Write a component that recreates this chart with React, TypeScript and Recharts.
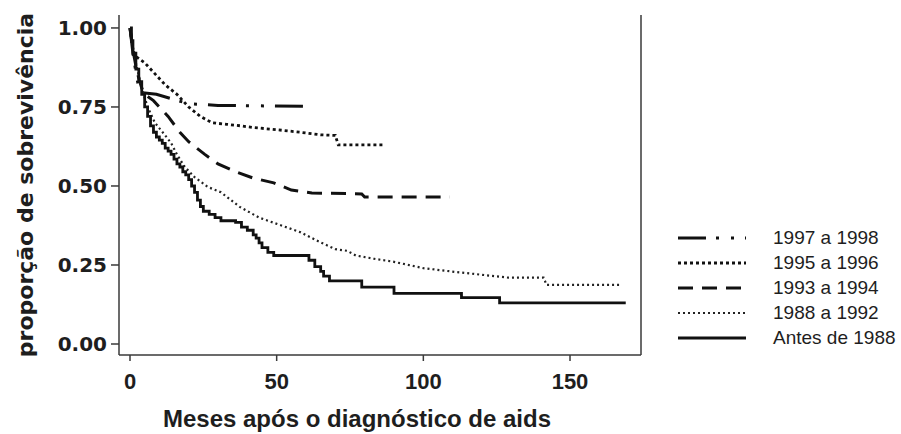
import React from 'react';
import { LineChart, Line, XAxis, YAxis, Legend } from 'recharts';

// ---- data ----
const xTicks = [0, 50, 100, 150];
const yTicks = [0, 0.25, 0.5, 0.75, 1.0];

const seriesNames = ['1997 a 1998', '1995 a 1996', '1993 a 1994', '1988 a 1992', 'Antes de 1988'];

const months9798 = [0, 1, 2, 3, 4, 9, 20, 30, 59];
const surv9798 = [1.0, 0.92, 0.86, 0.81, 0.795, 0.79, 0.76, 0.755, 0.752];

const months9596 = [0, 1, 2, 5, 8, 12, 16, 20, 24, 28, 33, 38, 42, 50, 58, 65, 70, 71, 87];
const surv9596 = [1.0, 0.93, 0.91, 0.89, 0.86, 0.82, 0.79, 0.75, 0.72, 0.7, 0.695, 0.69, 0.685, 0.678, 0.67, 0.662, 0.66, 0.63, 0.63];

const months9394 = [0, 1, 2, 3, 4, 5, 8, 13, 17, 20, 25.5, 30, 36, 42, 49, 55, 62, 79, 80, 109];
const surv9394 = [1.0, 0.93, 0.88, 0.84, 0.81, 0.79, 0.77, 0.72, 0.67, 0.64, 0.6, 0.57, 0.545, 0.525, 0.51, 0.487, 0.478, 0.475, 0.465, 0.465];

const months8892 = [0, 1, 2, 3, 4, 6, 8.5, 12, 14, 16, 18.7, 22, 26.5, 31, 37.4, 44, 51, 58, 64.6, 70, 74, 77, 83, 90, 100, 111, 129, 141, 142, 167];
const surv8892 = [1.0, 0.94, 0.89, 0.85, 0.81, 0.75, 0.7, 0.66, 0.636, 0.6, 0.56, 0.528, 0.497, 0.48, 0.434, 0.4, 0.377, 0.354, 0.323, 0.3, 0.295, 0.28, 0.27, 0.26, 0.24, 0.228, 0.21, 0.21, 0.187, 0.187];

const monthsAntes = [0, 0.5, 1, 2, 3, 4, 5, 6, 7, 8, 9, 10, 11, 12, 13, 14, 15, 16, 17, 18, 19, 20, 21, 22, 23, 24, 25, 27, 29, 31, 36, 38, 40, 42, 43, 44, 45, 47, 49, 61, 63, 65, 66, 68, 79, 90, 113, 126, 169];
const survAntes = [1.0, 0.96, 0.92, 0.87, 0.83, 0.79, 0.75, 0.72, 0.69, 0.67, 0.655, 0.645, 0.635, 0.62, 0.61, 0.6, 0.585, 0.57, 0.56, 0.545, 0.535, 0.52, 0.5, 0.48, 0.455, 0.435, 0.42, 0.41, 0.4, 0.39, 0.385, 0.37, 0.36, 0.345, 0.335, 0.32, 0.305, 0.29, 0.28, 0.265, 0.245, 0.23, 0.215, 0.2, 0.18, 0.16, 0.147, 0.13, 0.13];

const toPoints = (xs: number[], ys: number[]) => xs.map((x, i) => ({ x, y: ys[i] }));

type Curve = 'linear' | 'stepAfter';

const series: { name: string; data: { x: number; y: number }[]; dash?: string; width: number; color: string; curve: Curve }[] = [
  { name: seriesNames[0], data: toPoints(months9798, surv9798), dash: '28 10 3 12 3 11', width: 3, color: '#111', curve: 'linear' },
  { name: seriesNames[1], data: toPoints(months9596, surv9596), dash: '3 3', width: 2.8, color: '#111', curve: 'linear' },
  { name: seriesNames[2], data: toPoints(months9394, surv9394), dash: '15 9', width: 3, color: '#111', curve: 'linear' },
  { name: seriesNames[3], data: toPoints(months8892, surv8892), dash: '2 3', width: 2.2, color: '#222', curve: 'linear' },
  { name: seriesNames[4], data: toPoints(monthsAntes, survAntes), dash: undefined, width: 2.8, color: '#111', curve: 'stepAfter' },
];

const axisColor = '#3a3a3a';
const textColor = '#1e1e1e';

const LegendContent = () => (
  <div style={{ fontFamily: '"Liberation Sans", Arial, sans-serif', fontSize: 19, color: textColor }}>
    {series.map((s) => (
      <div key={s.name} style={{ display: 'flex', alignItems: 'center', height: 25 }}>
        <svg width={72} height={10} style={{ marginRight: 25 }}>
          <line x1={2} y1={5} x2={70} y2={5} stroke={s.color} strokeWidth={s.width} strokeDasharray={s.dash} />
        </svg>
        <span style={{ whiteSpace: 'nowrap' }}>{s.name}</span>
      </div>
    ))}
  </div>
);

export default function App() {
  return (
    <div style={{ position: 'absolute', left: 0, top: 0, background: '#fff' }}>
      <LineChart width={901} height={434} margin={{ top: 15, right: 0, bottom: 0, left: 0 }}>
        <XAxis
          type="number"
          dataKey="x"
          domain={[-3.75, 174.2]}
          ticks={xTicks}
          allowDataOverflow
          height={79}
          stroke={axisColor}
          strokeWidth={1.5}
          tickSize={6}
          tickMargin={12}
          tick={{ fontFamily: '"Liberation Sans", Arial, sans-serif', fontSize: 22, fontWeight: 'bold', fill: textColor }}
          label={{
            value: 'Meses após o diagnóstico de aids',
            position: 'insideBottom',
            offset: 7,
            dx: -23,
            style: { fontFamily: '"Liberation Sans", Arial, sans-serif', fontSize: 24, fontWeight: 'bold', fill: textColor },
          }}
        />
        <YAxis
          yAxisId="left"
          type="number"
          domain={[-0.0348, 1.041]}
          ticks={yTicks}
          allowDataOverflow
          width={119}
          stroke={axisColor}
          strokeWidth={1.5}
          tickSize={8}
          tickMargin={4}
          tickFormatter={(v: number) => v.toFixed(2)}
          tick={{ fontFamily: '"DejaVu Sans", sans-serif', fontSize: 20, fontWeight: 'bold', fill: textColor }}
          label={{
            value: 'proporção de sobrevivência',
            angle: -90,
            position: 'insideLeft',
            offset: 25,
            textAnchor: 'middle',
            style: { fontFamily: '"DejaVu Sans", sans-serif', fontSize: 22, fontWeight: 'bold', fill: textColor },
          }}
        />
        <YAxis
          yAxisId="right"
          orientation="right"
          type="number"
          domain={[-0.0348, 1.041]}
          ticks={yTicks}
          allowDataOverflow
          width={260}
          stroke={axisColor}
          strokeWidth={1.5}
          tickSize={6}
          tick={false}
        />
        {series.map((s) => (
          <Line
            key={s.name}
            yAxisId="left"
            data={s.data}
            dataKey="y"
            name={s.name}
            type={s.curve}
            dot={false}
            activeDot={false}
            stroke={s.color}
            strokeWidth={s.width}
            strokeDasharray={s.dash}
            isAnimationActive={false}
          />
        ))}
        <Legend
          layout="vertical"
          align="center"
          verticalAlign="middle"
          content={<LegendContent />}
          wrapperStyle={{ left: 676, top: 225, width: 225 }}
        />
      </LineChart>
    </div>
  );
}
